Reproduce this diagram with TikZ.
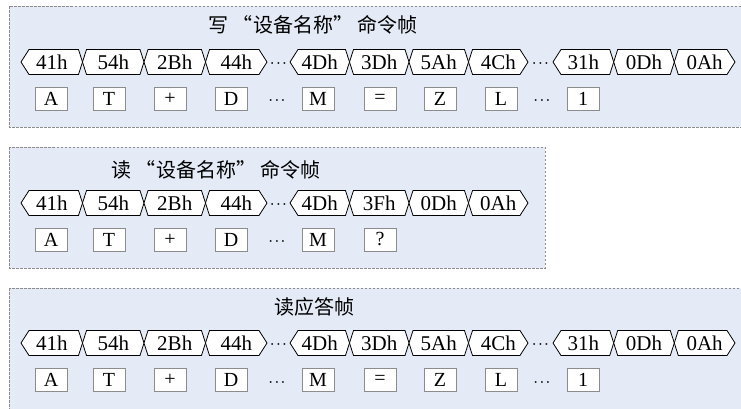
\documentclass[tikz,border=0pt]{standalone}
\usepackage{fontspec}
\setmainfont{Liberation Serif}
\newfontfamily\cjkfont{Noto Sans CJK SC}
\usepackage{tikz}
\usetikzlibrary{calc}
\definecolor{panelblue}{RGB}{228,235,246}
\tikzset{
	panel/.style={fill=panelblue, draw=black!45, dashed, dash pattern=on 2.5pt off 1.5pt, line width=0.6pt},
	hexframe/.style={fill=white, draw=black, line width=0.8pt, line join=miter},
	hexlabel/.style={inner sep=0pt, font=\fontsize{21}{21}\selectfont},
	charbox/.style={draw=black!45, fill=white, line width=0.6pt, minimum width=32pt, minimum height=23pt, inner sep=0pt, font=\fontsize{20}{20}\selectfont},
	dotsign/.style={inner sep=0pt, font=\fontsize{13}{13}\selectfont\boldmath},
	title/.style={inner sep=0pt, font=\cjkfont\fontsize{20}{20}\selectfont}
}
\def\hexcell(#1:#2:#3)(#4:#5)#6#7{\draw[hexframe] (#1,#3) -- (#1+#4,#3-12.5) -- (#2-#5,#3-12.5) -- (#2,#3) -- (#2-#5,#3+12.5) -- (#1+#4,#3+12.5) -- cycle; \node[hexlabel] (#6) at ({(#1+#2)/2},#3) {#7};}
\def\letterbox(#1:#2)#3#4{\node[charbox] (#3) at (#1,#2) {#4};}

\begin{document}
\begin{tikzpicture}[x=1pt, y=-1pt]
			\useasboundingbox (0,0) rectangle (741,408);
			\clip (0,0) rectangle (741,408);
			
			%%%%% WRITE FRAME %%%%%
			
			\draw[panel] (9,6) rectangle (760,127);
			\node[title] (t1) at (313,25) {写 “设备名称” 命令帧};
			
			\hexcell(21:82.5:62)(8:4){a1}{41h}
			\hexcell(82.5:144:62)(4:4){a2}{54h}
			\hexcell(144:205.5:62)(4:4){a3}{2Bh}
			\hexcell(205.5:267:62)(4:8){a4}{44h}
			\node[dotsign] (ad1) at (278.5,64) {$\cdots$};
			\hexcell(290:349.5:62)(8:4){a5}{4Dh}
			\hexcell(349.5:409:62)(4:4){a6}{3Dh}
			\hexcell(409:468.5:62)(4:4){a7}{5Ah}
			\hexcell(468.5:528:62)(4:8){a8}{4Ch}
			\node[dotsign] (ad2) at (540.5,64) {$\cdots$};
			\hexcell(553:613.7:62)(8:4){a9}{31h}
			\hexcell(613.7:674.3:62)(4:4){a10}{0Dh}
			\hexcell(674.3:735:62)(4:8){a11}{0Ah}
			
			\letterbox(51:98.5){ab1}{A}
			\letterbox(109:98.5){ab2}{T}
			\letterbox(170:98.5){ab3}{+}
			\letterbox(231:98.5){ab4}{D}
			\node[dotsign] (abd1) at (277,101) {$\cdots$};
			\letterbox(318:98.5){ab5}{M}
			\letterbox(380:98.5){ab6}{=}
			\letterbox(440:98.5){ab7}{Z}
			\letterbox(501:98.5){ab8}{L}
			\node[dotsign] (abd2) at (542,101) {$\cdots$};
			\letterbox(583:98.5){ab9}{1}
			
			%%%%% READ FRAME %%%%%
			
			\draw[panel] (9,147) rectangle (545,268);
			\node[title] (t2) at (216,170) {读 “设备名称” 命令帧};
			
			\hexcell(21:82.5:203)(8:4){b1}{41h}
			\hexcell(82.5:144:203)(4:4){b2}{54h}
			\hexcell(144:205.5:203)(4:4){b3}{2Bh}
			\hexcell(205.5:267:203)(4:8){b4}{44h}
			\node[dotsign] (bd1) at (278.5,205) {$\cdots$};
			\hexcell(290:349.5:203)(8:4){b5}{4Dh}
			\hexcell(349.5:409:203)(4:4){b6}{3Fh}
			\hexcell(409:468.5:203)(4:4){b7}{0Dh}
			\hexcell(468.5:528:203)(4:8){b8}{0Ah}
			
			\letterbox(51:239.5){bb1}{A}
			\letterbox(109:239.5){bb2}{T}
			\letterbox(170:239.5){bb3}{+}
			\letterbox(231:239.5){bb4}{D}
			\node[dotsign] (bbd1) at (277,242) {$\cdots$};
			\letterbox(318:239.5){bb5}{M}
			\letterbox(380:239.5){bb6}{?}
			
			%%%%% REPLY FRAME %%%%%
			
			\draw[panel] (9,288) rectangle (760,420);
			\node[title] (t3) at (314,307) {读应答帧};
			
			\hexcell(21:82.5:343)(8:4){c1}{41h}
			\hexcell(82.5:144:343)(4:4){c2}{54h}
			\hexcell(144:205.5:343)(4:4){c3}{2Bh}
			\hexcell(205.5:267:343)(4:8){c4}{44h}
			\node[dotsign] (cd1) at (278.5,345) {$\cdots$};
			\hexcell(290:349.5:343)(8:4){c5}{4Dh}
			\hexcell(349.5:409:343)(4:4){c6}{3Dh}
			\hexcell(409:468.5:343)(4:4){c7}{5Ah}
			\hexcell(468.5:528:343)(4:8){c8}{4Ch}
			\node[dotsign] (cd2) at (540.5,345) {$\cdots$};
			\hexcell(553:613.7:343)(8:4){c9}{31h}
			\hexcell(613.7:674.3:343)(4:4){c10}{0Dh}
			\hexcell(674.3:735:343)(4:8){c11}{0Ah}
			
			\letterbox(51:380){cb1}{A}
			\letterbox(109:380){cb2}{T}
			\letterbox(170:380){cb3}{+}
			\letterbox(231:380){cb4}{D}
			\node[dotsign] (cbd1) at (277,382.5) {$\cdots$};
			\letterbox(318:380){cb5}{M}
			\letterbox(380:380){cb6}{=}
			\letterbox(440:380){cb7}{Z}
			\letterbox(501:380){cb8}{L}
			\node[dotsign] (cbd2) at (542,382.5) {$\cdots$};
			\letterbox(583:380){cb9}{1}
			
			%%%%% END %%%%%
\end{tikzpicture}
\end{document}
